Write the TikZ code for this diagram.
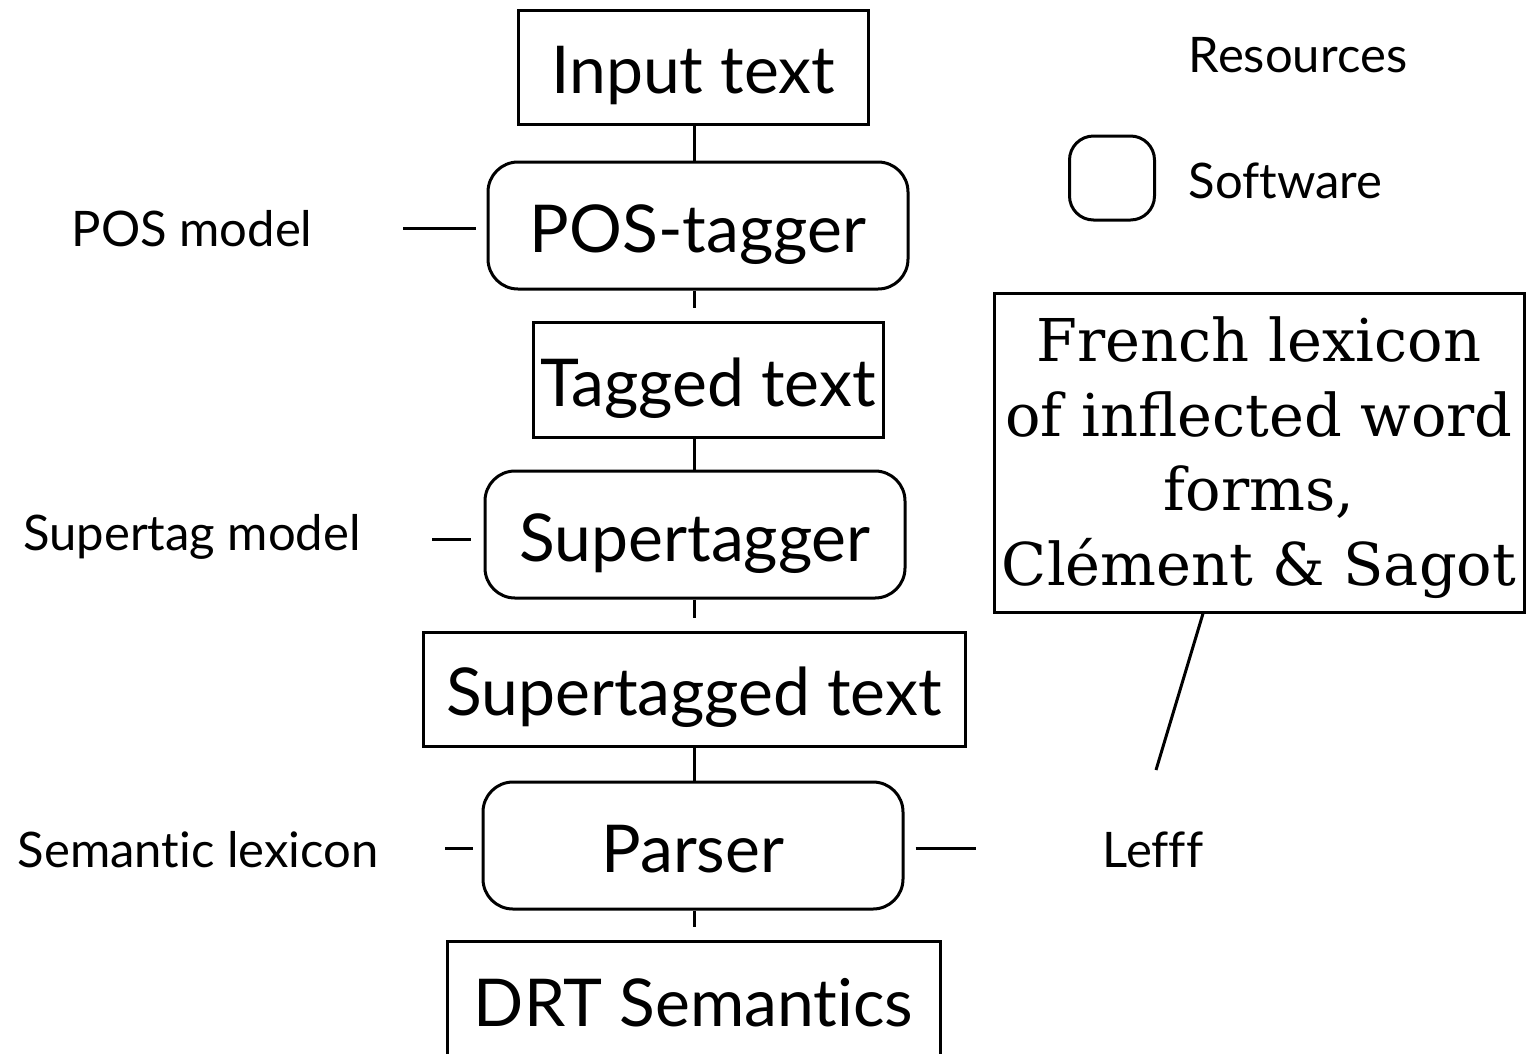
\documentclass[tikz,border=0pt]{standalone}
\usepackage{fontspec}
\setmainfont{Lato}[Ligatures=NoCommon]
\newfontfamily\slabfont{DejaVu Serif}
\begin{document}
\begin{tikzpicture}[x=1pt, y=-1pt, line width=3pt,
  boxtext/.style={font=\fontsize{66}{70}\selectfont, text height=53pt, text depth=0pt},
  resource/.style={draw, rectangle, inner sep=0pt, boxtext},
  software/.style={draw, rectangle, rounded corners=30pt, inner sep=0pt, boxtext},
  sidelabel/.style={inner sep=0pt, font=\fontsize{49}{54}\selectfont},
  link/.style={draw, line width=3pt},
  gaplink/.style={link, shorten >=13pt},
  sidelink/.style={link, shorten >=11pt}
]
% canvas
\fill[white] (0,0) rectangle (1526,1053);
\useasboundingbox (0,0) rectangle (1526,1053);

% processing chain
\node[resource, minimum width=350pt, minimum height=114pt] (input)  at (693,67)    {Input text};
\node[software, minimum width=420pt, minimum height=127pt] (pos)    at (698,225.5) {POS-tagger};
\node[resource, minimum width=350pt, minimum height=115pt] (tagged) at (708,379.5) {Tagged text};
\node[software, minimum width=420pt, minimum height=127pt] (super)  at (695,534.5) {Supertagger};
\node[resource, minimum width=542pt, minimum height=114pt] (stext)  at (694,689)   {Supertagged text};
\node[software, minimum width=420pt, minimum height=127pt] (parser) at (693,845.5) {Parser};
\node[resource, minimum width=493pt, minimum height=118pt] (drt)    at (693.5,1000) {DRT Semantics};

% spine of the chain
\coordinate (spine) at (694,0);
\path[link]    (spine |- input.south)  -- (spine |- pos.north);
\path[gaplink] (spine |- pos.south)    -- (spine |- tagged.north);
\path[link]    (spine |- tagged.south) -- (spine |- super.north);
\path[gaplink] (spine |- super.south)  -- (spine |- stext.north);
\path[link]    (spine |- stext.south)  -- (spine |- parser.north);
\path[gaplink] (spine |- parser.south) -- (spine |- drt.north);

% models feeding the software
\node[sidelabel] (posmodel) at (192,229) {POS model};
\node[sidelabel] (stmodel)  at (192,537) {Supertag model};
\node[sidelabel] (semlex)   at (198,850) {Semantic lexicon};
\coordinate (posmodelend) at (403,228);
\coordinate (stmodelend)  at (432,539);
\coordinate (semlexend)   at (445,848.5);
\path[sidelink] (posmodelend) -- (posmodelend -| pos.west);
\path[sidelink, shorten >=13pt] (stmodelend) -- (stmodelend -| super.west);
\path[sidelink, shorten >=9pt] (semlexend) -- (semlexend -| parser.west);

% lexicon used by the parser
\node[sidelabel] (lefff) at (1153,850) {Lefff};
\coordinate (lefffend) at (976,848.5);
\path[link, shorten <=11pt] (lefffend -| parser.east) -- (lefffend);

\node[draw, rectangle, inner sep=0pt, minimum width=530pt, minimum height=319pt] (lex) at (1259,452.5) {};
\node[align=center, inner sep=0pt, font=\slabfont\fontsize{59}{74.5}\selectfont] (lextext)
  at ([yshift=-5pt]lex.center)
  {French lexicon\\of inflected word\\forms,\\Clément \& Sagot};
\coordinate (lexfoot) at (1156,770);
\path[link] ([xshift=-56pt]lex.south) -- (lexfoot);

% legend
\node[sidelabel] (restext) at (1298,55) {Resources};
\node[draw, rectangle, rounded corners=24pt, minimum width=85pt, minimum height=84pt] (legendsw) at (1112,178) {};
\node[sidelabel, anchor=west] (swtext) at (1187,181) {Software};
\end{tikzpicture}
\end{document}
